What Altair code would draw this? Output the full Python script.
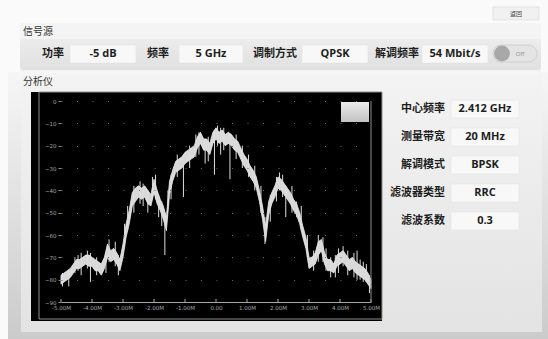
import altair as alt
import pandas as pd

# ---------------- data ----------------
freq = [-5.0, -4.9, -4.8, -4.7, -4.6, -4.5, -4.4, -4.3, -4.2, -4.1,
        -4.0, -3.9, -3.8, -3.7, -3.6, -3.5, -3.4, -3.3, -3.2, -3.1,
        -3.0, -2.9, -2.8, -2.7, -2.6, -2.5, -2.4, -2.3, -2.2, -2.1,
        -2.0, -1.9, -1.8, -1.7, -1.6, -1.5, -1.4, -1.3, -1.2, -1.1,
        -1.0, -0.9, -0.8, -0.7, -0.6, -0.5, -0.4, -0.3, -0.2, -0.1,
        0.0, 0.1, 0.2, 0.3, 0.4, 0.5, 0.6, 0.7, 0.8, 0.9,
        1.0, 1.1, 1.2, 1.3, 1.4, 1.5, 1.6, 1.7, 1.8, 1.9,
        2.0, 2.1, 2.2, 2.3, 2.4, 2.5, 2.6, 2.7, 2.8, 2.9,
        3.0, 3.1, 3.2, 3.3, 3.4, 3.5, 3.6, 3.7, 3.8, 3.9,
        4.0, 4.1, 4.2, 4.3, 4.4, 4.5, 4.6, 4.7, 4.8, 4.9, 5.0]
level_hi = [-78, -77, -76, -75, -73, -71, -71, -70, -69, -69,
            -70, -71, -72, -73, -70, -64, -67, -66, -68, -71,
            -64, -55, -49, -41, -39, -38, -39, -38, -40, -42,
            -35, -40, -44, -47, -52, -36, -31, -27, -26, -25,
            -23, -22, -21, -20, -16, -14, -17, -17, -19, -14,
            -12, -14, -13, -15, -14, -15, -17, -18, -21, -24,
            -26, -29, -31, -34, -40, -47, -56, -45, -41, -38,
            -34, -35, -37, -39, -41, -44, -46, -50, -56, -61,
            -70, -70, -68, -63, -62, -68, -71, -71, -73, -69,
            -68, -67, -69, -71, -70, -72, -73, -74, -75, -77, -80]
level_lo = [-82, -81, -80, -79, -77, -75, -75, -74, -73, -74,
            -74, -76, -76, -78, -75, -70, -72, -71, -73, -76,
            -70, -61, -55, -47, -45, -43, -44, -43, -46, -47,
            -41, -46, -49, -53, -58, -42, -36, -32, -31, -30,
            -28, -27, -26, -25, -21, -19, -22, -22, -24, -19,
            -17, -19, -18, -20, -19, -20, -22, -23, -26, -29,
            -31, -34, -36, -39, -45, -53, -63, -51, -46, -43,
            -39, -40, -42, -44, -46, -49, -51, -55, -61, -66,
            -75, -74, -73, -69, -67, -73, -76, -76, -77, -74,
            -73, -72, -74, -76, -75, -77, -78, -79, -80, -82, -84]
spike_f = [-4.95, -4.75, -4.55, -4.45, -4.35, -4.15, -4.05, -3.85, -3.55, -3.45,
           -3.25, -3.15, -2.95, -2.85, -2.65, -2.45, -2.35, -2.2, -2.05, -1.95,
           -1.85, -1.75, -1.65, -1.55, -1.45, -1.25, -1.05, -0.85, -0.65, -0.55,
           -0.35, -0.25, -0.05, 0.05, 0.15, 0.25, 0.45, 0.65, 0.85, 1.05,
           1.25, 1.45, 1.58, 1.75, 1.95, 2.05, 2.15, 2.25, 2.45, 2.6,
           2.75, 2.95, 3.15, 3.3, 3.45, 3.55, 3.7, 3.85, 3.95, 4.1,
           4.25, 4.45, 4.55, 4.65, 4.75, 4.85, 4.95]
spike_top = [-77, -76, -70, -69, -68, -67, -68, -70, -68, -62,
             -63, -69, -55, -47, -38, -36, -37, -40, -34, -33,
             -42, -45, -50, -40, -33, -24, -24, -20, -15, -14,
             -17, -16, -13, -11, -12, -12, -15, -15, -20, -24,
             -29, -38, -52, -42, -34, -32, -33, -38, -38, -45,
             -47, -60, -67, -60, -61, -66, -70, -69, -66, -65,
             -67, -68, -67, -71, -72, -73, -78]
spike_bot = [-83, -83, -77, -76, -78, -75, -81, -78, -77, -72,
             -74, -78, -66, -58, -50, -46, -47, -50, -44, -44,
             -52, -56, -69, -47, -44, -34, -43, -30, -25, -24,
             -28, -27, -33, -20, -24, -22, -35, -26, -30, -34,
             -40, -50, -64, -54, -45, -40, -43, -52, -50, -52,
             -58, -70, -76, -72, -72, -76, -79, -79, -77, -74,
             -78, -79, -80, -80, -81, -81, -86]

x_ticks = [-5, -4, -3, -2, -1, 0, 1, 2, 3, 4, 5]
x_tick_labels = ["-5.00M", "-4.00M", "-3.00M", "-2.00M", "-1.00M", "0.00",
                 "1.00M", "2.00M", "3.00M", "4.00M", "5.00M"]
y_ticks = [0, -10, -20, -30, -40, -50, -60, -70, -80, -90]

source_title = "信号源"
analyzer_title = "分析仪"
source_labels = ["功率", "频率", "调制方式", "解调频率"]
source_values = ["-5 dB", "5 GHz", "QPSK", "54 Mbit/s"]
analyzer_labels = ["中心频率", "测量带宽", "解调模式", "滤波器类型", "滤波系数"]
analyzer_values = ["2.412 GHz", "20 MHz", "BPSK", "RRC", "0.3"]
back_label = "返回"
toggle_label = "Off"

# ---------------- layout (pixels, page coordinates) ----------------
OX, OY = 61, 101          # plot origin on the page
PW, PH = 310, 201         # plot size
W, H = 548, 339

def rx(v):
    return v - OX

def ry(v):
    return v - OY

def rect_df(rows):
    return pd.DataFrame([{"x": rx(a), "x2": rx(b), "y": ry(c), "y2": ry(d)} for a, b, c, d in rows])

def rect_layer(rows, **kw):
    return alt.Chart(rect_df(rows)).mark_rect(**kw).encode(
        x=alt.X("x:Q", scale=None), x2="x2:Q",
        y=alt.Y("y:Q", scale=None), y2="y2:Q")

def text_layer(xs, ys, texts, **kw):
    df = pd.DataFrame({"x": [rx(v) for v in xs], "y": [ry(v) for v in ys], "t": texts})
    return alt.Chart(df).mark_text(**kw).encode(
        x=alt.X("x:Q", scale=None), y=alt.Y("y:Q", scale=None), text="t:N")

def vgrad(c1, c2):
    return alt.Gradient(gradient="linear", x1=0, x2=0, y1=0, y2=1,
                        stops=[alt.GradientStop(color=c1, offset=0),
                               alt.GradientStop(color=c2, offset=1)])

CJK = "Noto Sans CJK SC"
LAT = "Open Sans"

layers = []
# outer frame with vignette
layers.append(rect_layer([(8, 548, 72, 339)], fill=vgrad("#f6f6f6", "#cbcbcb")))
# signal-source panel
layers.append(rect_layer([(20, 541, 23, 72)], fill="#f4f4f4"))
layers.append(rect_layer([(20, 541, 39, 70)], fill=vgrad("#ececec", "#e0e0e0"), cornerRadius=3))
# value boxes of source row
src_box = [(70, 136), (179, 243), (302, 368), (422, 488)]
layers.append(rect_layer([(a, b, 45, 63) for a, b in src_box], fill="#f8f8f8",
                         stroke="#e2e2e2", strokeWidth=0.5))
# toggle
layers.append(rect_layer([(493, 537, 45, 62)], fill="#e4e4e4", stroke="#c9c9c9",
                         strokeWidth=0.8, cornerRadius=8.5))
tog = pd.DataFrame({"x": [rx(502)], "y": [ry(53.5)]})
layers.append(alt.Chart(tog).mark_point(filled=True, size=250, color="#a8a8a8", opacity=1).encode(
    x=alt.X("x:Q", scale=None), y=alt.Y("y:Q", scale=None)))
# back button
layers.append(rect_layer([(493, 539, 7, 20)], fill="#f1f1f1", stroke="#d8d8d8", strokeWidth=0.6))
# analyzer panel
layers.append(rect_layer([(21, 542, 75, 332)], fill=vgrad("#f3f3f3", "#e3e3e3")))
# analyzer value boxes
row_y = [109, 137, 165, 193, 221]
layers.append(rect_layer([(451, 519, yy - 9, yy + 9) for yy in row_y], fill="#f8f8f8",
                         stroke="#e2e2e2", strokeWidth=0.5))
# black display
layers.append(rect_layer([(31, 382, 92, 321)], fill="#000000"))
layers.append(rect_layer([(39, 382, 92, 319)], fill="#000000", stroke="#8c8c8c", strokeWidth=1))
# small grey square in display
layers.append(rect_layer([(341, 369, 102, 122)], fill=vgrad("#ebebeb", "#c2c2c2")))

# ---------------- spectrum (data through scales) ----------------
xs = alt.Scale(domain=[x_ticks[0], x_ticks[-1]], nice=False, zero=False)
ys = alt.Scale(domain=[y_ticks[-1], y_ticks[0]], nice=False, zero=False)

label_expr = ""
for v, l in zip(x_ticks, x_tick_labels):
    label_expr += f"datum.value == {v} ? '{l}' : "
label_expr += "''"

spec = pd.DataFrame({"f": freq, "hi": level_hi, "lo": level_lo})
area = alt.Chart(spec).mark_area(fill="#d9d9d9", stroke="#f0f0f0", strokeWidth=0.8).encode(
    x=alt.X("f:Q", scale=xs,
            axis=alt.Axis(values=x_ticks, tickCount=len(x_ticks) + 5, labelExpr=label_expr,
                          title=None, grid=False,
                          ticks=False, domain=True, domainColor="#a8a8a8", domainWidth=1,
                          labelColor="#a8a8a8", labelFontSize=5.5, labelFont="DejaVu Sans",
                          labelPadding=3, labelFlush=False, labelOverlap=False, zindex=1)),
    y=alt.Y("hi:Q", scale=ys,
            axis=alt.Axis(values=y_ticks, tickCount=len(y_ticks) + 5, title=None,
                          domain=False, ticks=True, tickSize=3,
                          tickColor="#8a8a8a", labelColor="#a8a8a8", labelFontSize=5.5,
                          labelFont="DejaVu Sans", labelPadding=2, grid=True,
                          labelOverlap=False, labelFlush=False,
                          gridColor="#6a6a6a", gridDash=[1, 14.5], gridWidth=1, zindex=1)),
    y2="lo:Q")

spikes = pd.DataFrame({"f": spike_f, "top": spike_top, "bot": spike_bot})
spike_layer = alt.Chart(spikes).mark_rule(color="#dedede", strokeWidth=1).encode(
    x=alt.X("f:Q", scale=xs), y=alt.Y("top:Q", scale=ys), y2="bot:Q")

tick_df = pd.DataFrame({"f": x_ticks, "v": [y_ticks[-1]] * len(x_ticks)})
tick_layer = alt.Chart(tick_df).mark_rule(color="#a8a8a8", strokeWidth=1).encode(
    x=alt.X("f:Q", scale=xs), y=alt.Y("v:Q", scale=ys), y2=alt.value(PH - 3))

edge_df = pd.DataFrame({"f": [x_ticks[-1]], "top": [y_ticks[0]], "bot": [y_ticks[-1]]})
edge_layer = alt.Chart(edge_df).mark_rule(color="#8c8c8c", strokeWidth=1).encode(
    x=alt.X("f:Q", scale=xs), y=alt.Y("top:Q", scale=ys), y2="bot:Q")

layers += [area, spike_layer, tick_layer, edge_layer]

# ---------------- texts ----------------
layers.append(text_layer([23, 23], [32, 82], [source_title, analyzer_title], font=CJK,
                         fontSize=10, color="#333333", align="left", baseline="middle"))
layers.append(text_layer([53, 158, 275, 397], [54] * 4, source_labels, font=CJK,
                         fontSize=11, fontWeight="bold", color="#1e1e1e", align="center",
                         baseline="middle"))
layers.append(text_layer([103, 211, 335, 455], [54] * 4, source_values, font=LAT,
                         fontSize=11, fontWeight="bold", color="#1e1e1e", align="center",
                         baseline="middle"))
layers.append(text_layer([445] * 5, row_y, analyzer_labels, font=CJK, fontSize=11,
                         fontWeight="bold", color="#1e1e1e", align="right", baseline="middle"))
layers.append(text_layer([485] * 5, row_y, analyzer_values, font=LAT, fontSize=11,
                         fontWeight="bold", color="#1e1e1e", align="center", baseline="middle"))
layers.append(text_layer([520], [54], [toggle_label], font=LAT, fontSize=6,
                         color="#8a8a8a", align="center", baseline="middle"))
layers.append(text_layer([516], [14], [back_label], font=CJK, fontSize=6,
                         color="#444444", align="center", baseline="middle"))

chart = alt.layer(*layers).properties(
    width=PW, height=PH,
    padding={"left": OX, "top": OY, "right": W - OX - PW, "bottom": H - OY - PH},
    autosize=alt.AutoSizeParams(type="none"),
    background="#fafafa",
).configure_view(stroke=None)

chart.save("out.html", embed_options={"renderer": "svg", "actions": False})
